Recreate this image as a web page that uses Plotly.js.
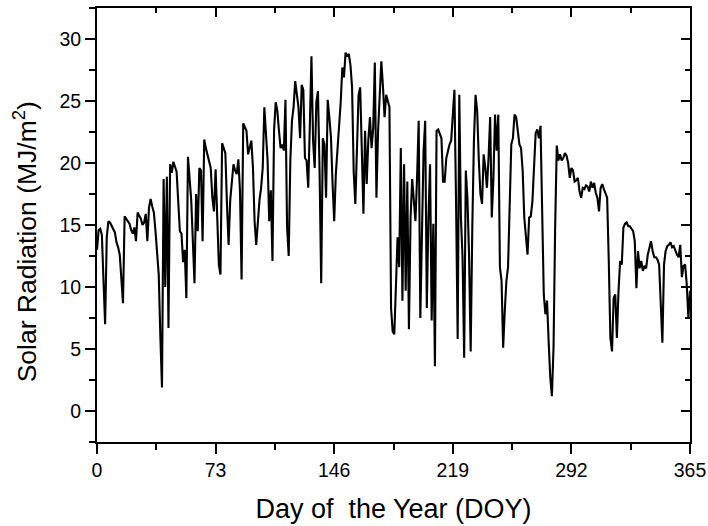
<!DOCTYPE html>
<html>
<head>
<meta charset="utf-8">
<script src="https://cdn.plot.ly/plotly-3.0.1.min.js"></script>
<style>
html,body{margin:0;padding:0;background:#fff;}
#chart{width:708px;height:526px;}
</style>
</head>
<body>
<div id="chart"></div>
<script>
// Daily solar radiation (MJ/m^2), day 0 .. 365
const radiation = [
  13.0, 14.6, 14.7, 14.2, 10.5, 7.0, 14.0, 15.3, 15.2, 14.9,
  14.6, 14.4, 13.6, 13.2, 12.6, 11.0, 8.7, 15.7, 15.5, 15.2,
  15.1, 14.6, 14.3, 14.8, 13.7, 16.0, 15.8, 15.5, 15.0, 15.2,
  15.9, 13.7, 16.4, 17.1, 16.5, 16.0, 14.5, 12.6, 11.0, 6.0,
  1.9, 18.7, 10.0, 18.9, 6.7, 19.9, 19.2, 20.1, 19.6, 19.3,
  16.9, 14.5, 14.3, 12.0, 13.0, 9.1, 20.5, 18.8, 17.0, 13.7,
  10.3, 17.5, 14.5, 19.6, 19.4, 13.7, 21.9, 21.2, 20.7, 20.0,
  19.6, 17.2, 16.1, 19.5, 15.9, 11.8, 11.0, 21.6, 21.2, 20.8,
  16.7, 13.4, 17.0, 18.8, 19.9, 19.4, 19.1, 20.3, 17.8, 10.6,
  23.2, 22.9, 22.6, 20.7, 21.3, 21.8, 19.6, 15.3, 13.4, 15.6,
  17.0, 18.0, 19.6, 24.5, 21.8, 20.2, 15.3, 17.8, 12.1, 22.7,
  24.9, 24.2, 22.6, 21.2, 21.5, 21.0, 25.1, 14.8, 12.5, 20.2,
  23.4, 24.5, 26.6, 25.5, 24.5, 22.0, 26.3, 25.9, 20.4, 20.2,
  18.0, 23.0, 28.6, 21.8, 19.6, 24.9, 25.8, 19.3, 10.3, 22.0,
  21.5, 17.2, 25.1, 23.7, 22.1, 18.3, 15.3, 19.1, 21.0, 22.6,
  24.9, 27.7, 26.9, 28.9, 28.6, 28.8, 27.9, 26.1, 19.3, 16.7,
  21.8, 25.5, 26.1, 19.9, 15.9, 22.6, 18.3, 21.8, 23.7, 21.2,
  22.8, 28.1, 17.2, 22.6, 25.9, 28.2, 26.2, 23.7, 25.5, 24.9,
  24.5, 8.3, 6.4, 6.2, 10.0, 14.0, 11.6, 21.2, 8.9, 19.9,
  9.7, 18.5, 6.6, 15.6, 18.7, 16.9, 15.3, 18.8, 23.4, 7.5,
  15.3, 20.9, 23.4, 8.3, 15.6, 19.9, 7.3, 15.1, 3.6, 22.6,
  22.7, 22.3, 22.0, 18.5, 18.5, 20.4, 21.1, 21.5, 21.8, 23.9,
  25.9, 16.9, 5.8, 25.5, 15.6, 12.4, 4.3, 19.4, 17.2, 12.6,
  4.8, 14.8, 21.8, 25.5, 24.2, 20.3, 17.5, 16.7, 20.7, 19.6,
  18.0, 20.4, 23.7, 15.6, 18.8, 23.9, 21.0, 23.9, 11.6, 10.5,
  5.1, 8.1, 10.5, 11.6, 15.9, 21.5, 22.0, 23.9, 23.7, 22.3,
  21.5, 21.2, 19.4, 15.6, 14.2, 12.6, 15.6, 15.7, 16.9, 20.0,
  22.4, 22.7, 22.0, 23.0, 14.5, 9.4, 7.8, 8.9, 5.6, 2.7,
  1.2, 5.1, 14.8, 21.4, 20.2, 20.7, 20.2, 20.4, 20.8, 20.6,
  20.0, 18.8, 19.6, 19.4, 18.5, 18.6, 18.8, 17.7, 17.2, 18.0,
  17.9, 18.2, 18.1, 17.7, 18.5, 18.0, 18.4, 17.6, 17.2, 16.1,
  18.0, 18.3, 17.9, 17.5, 17.2, 12.1, 5.9, 4.8, 9.1, 9.4,
  5.9, 9.7, 12.1, 11.8, 14.8, 15.1, 15.2, 14.9, 14.9, 14.7,
  14.5, 13.7, 9.9, 12.9, 11.5, 12.1, 11.3, 11.7, 11.5, 12.6,
  13.2, 13.7, 12.9, 12.4, 12.4, 12.2, 11.8, 8.7, 5.5, 11.8,
  12.9, 13.3, 13.4, 13.6, 13.2, 13.3, 12.9, 12.6, 12.4, 13.4,
  10.8, 11.7, 11.8, 10.2, 7.5, 9.7
];
const days = radiation.map((_, i) => i);

const xTicks = [0, 73, 146, 219, 292, 365];
const yTicks = [0, 5, 10, 15, 20, 25, 30];

const xTitle = 'Day of\u00A0 the Year (DOY)';
const yTitle = 'Solar Radiation (MJ/m<sup>2</sup>)';

const FONT = 'Arial, "Liberation Sans", sans-serif';

const traces = [
  {
    x: days, y: radiation, type: 'scatter', mode: 'lines',
    line: {color: '#000', width: 2.1},
    hoverinfo: 'skip', showlegend: false
  },
  {
    // invisible copy to register top/right mirror axes
    x: days, y: radiation, type: 'scatter', mode: 'lines',
    xaxis: 'x2', yaxis: 'y2',
    line: {color: 'rgba(0,0,0,0)', width: 0},
    hoverinfo: 'skip', showlegend: false
  }
];

const commonX = {
  range: [0, 365], tickmode: 'array', tickvals: xTicks,
  showline: true, linecolor: '#000', linewidth: 2,
  showgrid: false, zeroline: false,
  tickcolor: '#000', tickwidth: 2
};
const commonY = {
  range: [-2.5, 32.5], tickmode: 'array', tickvals: yTicks,
  showline: true, linecolor: '#000', linewidth: 2,
  showgrid: false, zeroline: false,
  tickcolor: '#000', tickwidth: 2
};

const layout = {
  width: 708, height: 526,
  margin: {l: 97, r: 18, t: 8, b: 84},
  paper_bgcolor: '#fff', plot_bgcolor: '#fff',
  font: {family: FONT, color: '#000', size: 18},
  showlegend: false,
  xaxis: Object.assign({}, commonX, {
    ticks: 'outside', ticklen: 10,
    tickfont: {family: FONT, size: 19.5, color: '#000'},
    minor: {tickmode: 'linear', tick0: 0, dtick: 36.5, ticks: 'outside', ticklen: 6, tickwidth: 2, tickcolor: '#000'},
    title: {text: xTitle, font: {family: FONT, size: 27, color: '#000'}, standoff: 19},
    automargin: false
  }),
  yaxis: Object.assign({}, commonY, {
    ticks: 'outside', ticklen: 10,
    tickfont: {family: FONT, size: 19.5, color: '#000'},
    minor: {tickmode: 'linear', tick0: 0, dtick: 2.5, ticks: 'outside', ticklen: 6, tickwidth: 2, tickcolor: '#000'},
    automargin: false
  }),
  xaxis2: Object.assign({}, commonX, {
    overlaying: 'x', side: 'top', anchor: 'y2',
    ticks: 'inside', ticklen: 9, showticklabels: false,
    minor: {tickmode: 'linear', tick0: 0, dtick: 36.5, ticks: 'inside', ticklen: 5, tickwidth: 2, tickcolor: '#000'}
  }),
  yaxis2: Object.assign({}, commonY, {
    overlaying: 'y', side: 'right', anchor: 'x2',
    ticks: 'inside', ticklen: 9, showticklabels: false,
    minor: {tickmode: 'linear', tick0: 0, dtick: 2.5, ticks: 'inside', ticklen: 5, tickwidth: 2, tickcolor: '#000'}
  }),
  annotations: [{
    text: yTitle, textangle: -90,
    xref: 'paper', yref: 'paper',
    x: -0.1214, y: 0.46, xanchor: 'center', yanchor: 'middle',
    showarrow: false,
    font: {family: FONT, size: 26.5, color: '#000'}
  }]
};

Plotly.newPlot('chart', traces, layout, {staticPlot: true, displayModeBar: false});
</script>
</body>
</html>
